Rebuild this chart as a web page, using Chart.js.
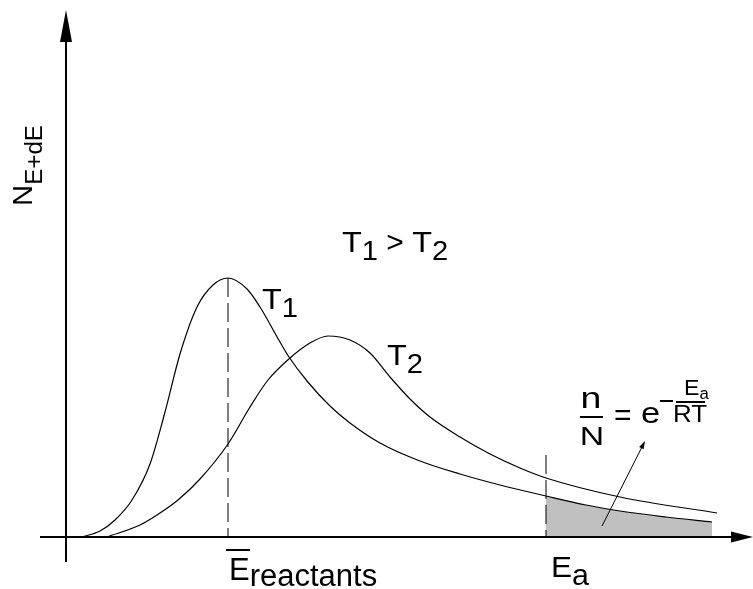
<!DOCTYPE html>
<html>
<head>
<meta charset="utf-8">
<script src="https://cdn.jsdelivr.net/npm/chart.js@4.4.1/dist/chart.umd.min.js"></script>
<style>
  html, body { margin: 0; padding: 0; background: #fff; }
  #wrap { width: 753px; height: 589px; position: relative; }
</style>
</head>
<body>
<div id="wrap"><canvas id="chart"></canvas></div>
<script>
// Maxwell-Boltzmann style distributions, arbitrary units (energy along x, count along y)
const energyT1 = [16, 34, 49, 66, 84, 99, 114, 131, 147, 162, 181, 194, 214, 223, 241, 264, 284, 314, 354, 394, 434, 480, 520, 554, 600, 646];
const countT1 = [0, 6, 17, 37, 73, 125, 183, 230, 252, 259, 248, 230, 195, 180, 156, 131, 114, 94, 76, 63, 52, 41, 32, 26, 20, 15];
const energyT2 = [41, 74, 94, 112, 134, 162, 184, 202, 224, 244, 262, 284, 304, 324, 344, 364, 394, 424, 454, 480, 554, 651];
const countT2 = [0, 12, 24, 37, 58, 93, 130, 157, 179, 194, 201, 197, 184, 160, 138, 120, 100, 83, 69, 59, 40, 24];
const meanEnergy = 162;
const meanEnergyTop = 259;
const activationEnergy = 480;
const activationTop = 82;

const FONT = '"Liberation Sans", Arial, Helvetica, sans-serif';

function zip(xs, ys) {
  return xs.map((x, i) => ({ x, y: ys[i] }));
}

function tailFrom(xs, ys, start) {
  return zip(xs, ys).filter((p) => p.x >= start);
}

// text drawn slightly wider than the font, like the original artwork
function wideText(ctx, text, x, y, size, stretch = 1.12, align = "left") {
  ctx.save();
  ctx.font = `${size}px ${FONT}`;
  const w = ctx.measureText(text).width * stretch;
  const left = align === "center" ? x - w / 2 : x;
  ctx.translate(left, y);
  ctx.scale(stretch, 1);
  ctx.textAlign = "left";
  ctx.fillText(text, 0, 0);
  ctx.restore();
  return left + w;
}

function drawSub(ctx, main, sub, x, y, size, subSize, drop, stretch = 1.12) {
  const mid = wideText(ctx, main, x, y, size, stretch);
  return wideText(ctx, sub, mid, y + drop, subSize, stretch);
}

function arrowHead(ctx, tipX, tipY, dx, dy, len, half) {
  const n = Math.hypot(dx, dy);
  const ux = dx / n;
  const uy = dy / n;
  ctx.beginPath();
  ctx.moveTo(tipX, tipY);
  ctx.lineTo(tipX - ux * len - uy * half, tipY - uy * len + ux * half);
  ctx.lineTo(tipX - ux * len + uy * half, tipY - uy * len - ux * half);
  ctx.closePath();
  ctx.fill();
}

const sketchPlugin = {
  id: "sketch",
  afterDatasetsDraw(chart) {
    const { ctx } = chart;
    const px = (v) => chart.scales.x.getPixelForValue(v);
    const py = (v) => chart.scales.y.getPixelForValue(v);

    ctx.save();
    ctx.fillStyle = "#000";
    ctx.strokeStyle = "#000";

    // axes with arrow heads
    ctx.lineWidth = 2;
    ctx.beginPath();
    ctx.moveTo(px(-26), py(0));
    ctx.lineTo(px(667), py(0));
    ctx.moveTo(px(0), py(-25));
    ctx.lineTo(px(0), py(497));
    ctx.stroke();
    arrowHead(ctx, px(687), py(0), 1, 0, 22, 5.5);
    arrowHead(ctx, px(0), py(527), 0, -1, 32, 6);

    // small pointer from the shaded tail to the formula
    ctx.lineWidth = 1;
    ctx.beginPath();
    ctx.moveTo(px(536), py(11));
    ctx.lineTo(px(578), py(94));
    ctx.stroke();
    arrowHead(ctx, px(579), py(96), 42, -83, 8, 2.5);

    ctx.textBaseline = "alphabetic";
    ctx.textAlign = "left";

    // y axis title
    ctx.save();
    ctx.translate(32, 206);
    ctx.rotate(-Math.PI / 2);
    drawSub(ctx, "N", "E+dE", 0, 0, 28, 23, 10, 1.05);
    ctx.restore();

    // curve labels
    let xx = drawSub(ctx, "T", "1", 342, 252, 30, 27, 8, 1.08);
    xx = wideText(ctx, " > ", xx, 252, 30, 1.0);
    drawSub(ctx, "T", "2", xx, 252, 30, 27, 8, 1.08);
    drawSub(ctx, "T", "1", 262, 309, 30, 27, 8, 1.08);
    drawSub(ctx, "T", "2", 387, 365, 30, 27, 8, 1.08);

    // energy labels on the axis
    drawSub(ctx, "E", "reactants", px(meanEnergy) + 1, 580, 31, 31, 6, 1.0);
    ctx.fillRect(px(meanEnergy) - 2, 549, 24, 2);
    drawSub(ctx, "E", "a", px(activationEnergy) + 5, 577, 30, 29, 8, 1.05);

    // n/N = e^(-Ea/RT)
    wideText(ctx, "n", 591, 408, 30, 1.25, "center");
    wideText(ctx, "N", 592, 445, 26, 1.3, "center");
    ctx.fillRect(580, 416, 23, 2);
    wideText(ctx, "=", 614, 425, 30, 1.0);
    wideText(ctx, "e", 641, 423, 30, 1.15);
    ctx.fillRect(660, 400, 13, 2);
    ctx.fillRect(676, 401, 29, 2);
    drawSub(ctx, "E", "a", 684, 395, 22, 16, 4, 1.05);
    wideText(ctx, "RT", 690, 422, 24, 1.08, "center");

    ctx.restore();
  }
};

const curveStyle = {
  borderColor: "#000",
  borderWidth: 1.2,
  pointRadius: 0,
  fill: false,
  cubicInterpolationMode: "monotone"
};

new Chart(document.getElementById("chart"), {
  type: "line",
  data: {
    datasets: [
      { label: "T1", data: zip(energyT1, countT1), ...curveStyle },
      { label: "T2", data: zip(energyT2, countT2), ...curveStyle },
      {
        label: "mean",
        data: [{ x: meanEnergy, y: meanEnergyTop }, { x: meanEnergy, y: 0 }],
        borderColor: "#000",
        borderWidth: 1,
        borderDash: [19, 6],
        pointRadius: 0,
        fill: false
      },
      {
        label: "Ea",
        data: [{ x: activationEnergy, y: activationTop }, { x: activationEnergy, y: 0 }],
        borderColor: "#000",
        borderWidth: 1,
        borderDash: [19, 6],
        pointRadius: 0,
        fill: false
      },
      {
        label: "tail",
        data: tailFrom(energyT1, countT1, activationEnergy),
        borderWidth: 0,
        backgroundColor: "#c0c0c0",
        pointRadius: 0,
        fill: "origin",
        cubicInterpolationMode: "monotone"
      }
    ]
  },
  options: {
    responsive: true,
    maintainAspectRatio: false,
    animation: false,
    layout: { padding: 0 },
    plugins: { legend: { display: false }, tooltip: { enabled: false } },
    scales: {
      x: { type: "linear", min: -66, max: 687, display: false },
      y: { type: "linear", min: -52, max: 537, display: false }
    }
  },
  plugins: [sketchPlugin]
});
</script>
</body>
</html>
